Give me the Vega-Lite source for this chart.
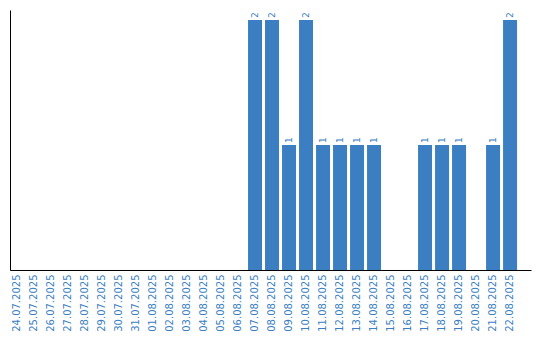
{
  "$schema": "https://vega.github.io/schema/vega-lite/v6.json",
  "width": 521,
  "height": 260,
  "autosize": {"type": "none"},
  "padding": {"left": 10, "top": 10, "right": 9, "bottom": 70},
  "background": "white",
  "config": {"view": {"stroke": null}},
  "data": {"values": [
    {"date": "24.07.2025", "value": 0},
    {"date": "25.07.2025", "value": 0},
    {"date": "26.07.2025", "value": 0},
    {"date": "27.07.2025", "value": 0},
    {"date": "28.07.2025", "value": 0},
    {"date": "29.07.2025", "value": 0},
    {"date": "30.07.2025", "value": 0},
    {"date": "31.07.2025", "value": 0},
    {"date": "01.08.2025", "value": 0},
    {"date": "02.08.2025", "value": 0},
    {"date": "03.08.2025", "value": 0},
    {"date": "04.08.2025", "value": 0},
    {"date": "05.08.2025", "value": 0},
    {"date": "06.08.2025", "value": 0},
    {"date": "07.08.2025", "value": 2},
    {"date": "08.08.2025", "value": 2},
    {"date": "09.08.2025", "value": 1},
    {"date": "10.08.2025", "value": 2},
    {"date": "11.08.2025", "value": 1},
    {"date": "12.08.2025", "value": 1},
    {"date": "13.08.2025", "value": 1},
    {"date": "14.08.2025", "value": 1},
    {"date": "15.08.2025", "value": 0},
    {"date": "16.08.2025", "value": 0},
    {"date": "17.08.2025", "value": 1},
    {"date": "18.08.2025", "value": 1},
    {"date": "19.08.2025", "value": 1},
    {"date": "20.08.2025", "value": 0},
    {"date": "21.08.2025", "value": 1},
    {"date": "22.08.2025", "value": 2}
  ]},
  "encoding": {
    "x": {
      "field": "date", "type": "nominal", "sort": null,
      "scale": {"paddingInner": 0.1765, "paddingOuter": 0.41, "align": 0},
      "axis": {
        "title": null, "ticks": false, "domainColor": "#000000", "domainWidth": 1,
        "labelAngle": 270, "labelAlign": "right", "labelBaseline": "middle",
        "labelPadding": 4, "labelFont": "DejaVu Sans", "labelFontSize": 10,
        "labelColor": "#3b7fc2", "labelOverlap": false
      }
    },
    "y": {
      "field": "value", "type": "quantitative",
      "scale": {"domain": [0, 2.08], "nice": false},
      "axis": {"title": null, "labels": false, "ticks": false, "grid": false, "domainColor": "#000000", "domainWidth": 1}
    }
  },
  "layer": [
    {"mark": {"type": "bar", "color": "#3b7fc2"}},
    {
      "transform": [{"filter": "datum.value > 0"}],
      "mark": {"type": "text", "angle": 270, "align": "left", "baseline": "middle", "dx": 2, "font": "DejaVu Sans", "fontSize": 9, "color": "#3b7fc2"},
      "encoding": {"text": {"field": "value", "type": "quantitative"}}
    }
  ]
}
